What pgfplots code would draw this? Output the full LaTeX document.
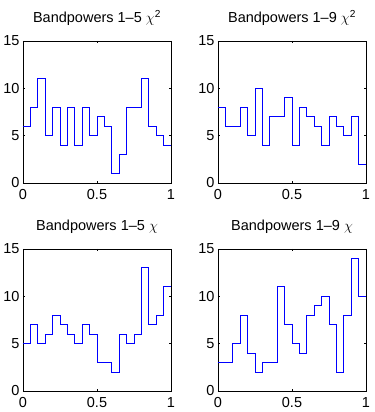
\documentclass[border=0pt]{standalone}
\usepackage{fontspec}
\setmainfont{Liberation Sans}
\usepackage{pgfplots}
\pgfplotsset{compat=1.18}
\usepgfplotslibrary{groupplots}
\usetikzlibrary{calc}
\definecolor{mblue}{RGB}{0,0,255}
\pgfplotsset{
  hist/.style={
    scale only axis, width=148pt, height=142pt,
    xmin=0, xmax=1, ymin=0, ymax=15,
    xtick={0,0.5,1}, ytick={0,5,10,15},
    xticklabels={0,0.5,1},
    tick align=inside, major tick length=2pt,
    axis line style={black, line width=0.6pt},
    tick style={black, line width=0.5pt},
    every tick label/.style={font=\fontsize{14.5}{16}\selectfont},
    xticklabel style={yshift=-3pt},
    /pgf/number format/assume math mode=true,
    title style={font=\fontsize{14.5}{16}\selectfont, yshift=6pt},
  },
  stairs/.style={draw=mblue, line width=0.9pt, const plot, line join=miter},
}
\begin{document}
\begin{tikzpicture}
\begin{groupplot}[group style={group size=2 by 2, horizontal sep=47pt, vertical sep=66pt}, hist]
\nextgroupplot[title={Bandpowers 1–5 $\chi$\textsuperscript{2}}]
\addplot[stairs] coordinates {
 (0,6)(0.05,8)(0.1,11)(0.15,5)(0.2,8)(0.25,4)(0.3,8)(0.35,4)(0.4,8)(0.45,5)
 (0.5,7)(0.55,6)(0.6,1)(0.65,3)(0.7,8)(0.75,8)(0.8,11)(0.85,6)(0.9,5)(0.95,4)(1,4)};
\nextgroupplot[title={Bandpowers 1–9 $\chi$\textsuperscript{2}}]
\addplot[stairs] coordinates {
 (0,8)(0.05,6)(0.1,6)(0.15,8)(0.2,5)(0.25,10)(0.3,4)(0.35,7)(0.4,7)(0.45,9)
 (0.5,4)(0.55,8)(0.6,7)(0.65,6)(0.7,4)(0.75,7)(0.8,6)(0.85,5)(0.9,7)(0.95,2)(1,2)};
\nextgroupplot[title={Bandpowers 1–5 $\chi$}]
\addplot[stairs] coordinates {
 (0,5)(0.05,7)(0.1,5)(0.15,6)(0.2,8)(0.25,7)(0.3,6)(0.35,5)(0.4,7)(0.45,6)
 (0.5,3)(0.55,3)(0.6,2)(0.65,6)(0.7,5)(0.75,6)(0.8,13)(0.85,7)(0.9,8)(0.95,11)(1,11)};
\nextgroupplot[title={Bandpowers 1–9 $\chi$}]
\addplot[stairs] coordinates {
 (0,3)(0.05,3)(0.1,5)(0.15,8)(0.2,4)(0.25,2)(0.3,3)(0.35,3)(0.4,11)(0.45,7)
 (0.5,5)(0.55,4)(0.6,8)(0.65,9)(0.7,10)(0.75,7)(0.8,2)(0.85,8)(0.9,14)(0.95,10)(1,10)};
\end{groupplot}
\path ($(group c1r1.north west)+(-22pt,41pt)$) rectangle ($(group c1r1.north west)+(352pt,-371pt)$);
\end{tikzpicture}
\end{document}
